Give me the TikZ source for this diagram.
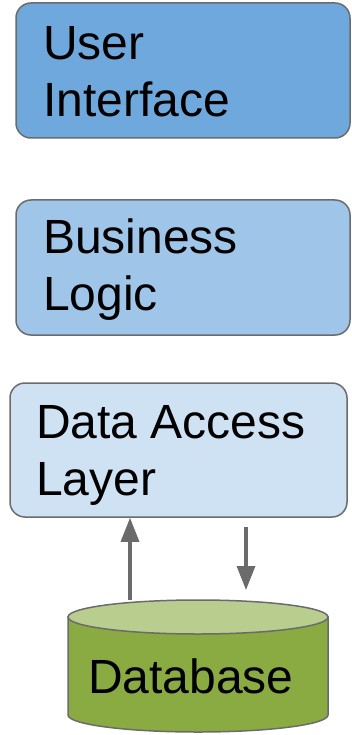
\documentclass[tikz,border=0pt]{standalone}
\usepackage{fontspec}
\setmainfont{Liberation Sans}
\usetikzlibrary{arrows.meta}
\definecolor{uicol}{HTML}{6FA8DC}
\definecolor{blcol}{HTML}{9FC5E8}
\definecolor{dacol}{HTML}{CFE2F3}
\definecolor{dbbody}{HTML}{8AAA42}
\definecolor{dbtop}{HTML}{B8CD8E}
\definecolor{edge}{HTML}{6B6B6B}
\begin{document}
\begin{tikzpicture}[x=1pt,y=-1pt,
  layerbox/.style={draw=edge,line width=1.5pt,rounded corners=15pt,inner sep=0pt},
  lbl/.style={anchor=base west,align=left,inner sep=0pt,font=\fontsize{48}{57}\selectfont},
  arr/.style={draw=edge,line width=3.2pt,-{Triangle[width=18pt,length=24pt]}}]
\useasboundingbox (0,0) rectangle (352,735);
\node[layerbox,fill=uicol,minimum width=334pt,minimum height=135pt] (ui) at (183,70.5) {};
\node[lbl] (uit) at (43,117) {User\\Interface};
\node[layerbox,fill=blcol,minimum width=334pt,minimum height=135pt] (bl) at (183,267.5) {};
\node[lbl] (blt) at (43,310) {Business\\Logic};
\node[layerbox,fill=dacol,minimum width=337pt,minimum height=134pt] (dal) at (178.5,450) {};
\node[lbl] (dalt) at (36,495) {Data Access\\Layer};
% database cylinder
\fill[dbbody,draw=edge,line width=1.5pt] (68,617) -- (68,715) arc[start angle=180,end angle=360,x radius=130,y radius=-17] -- (328,617) -- cycle;
\filldraw[fill=dbtop,draw=edge,line width=1.5pt] (198,617) ellipse[x radius=130,y radius=17];
\coordinate (dbup) at (130,600);
\coordinate (dbdown) at (246,590);
\node[lbl] (db) at (88,693) {Database};
\draw[arr] (dbup) -- (dbup |- dal.south);
\draw[arr] (dbdown |- 0,527) -- (dbdown);
\end{tikzpicture}
\end{document}
